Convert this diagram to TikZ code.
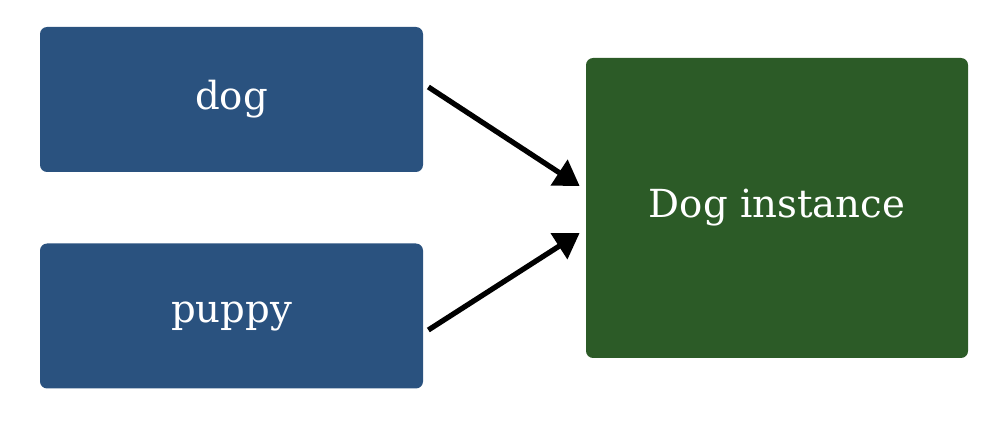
\documentclass[tikz,border=0pt]{standalone}
\usepackage{fontspec}
\setmainfont{DejaVu Serif}
\usepackage{tikz}
\usetikzlibrary{arrows.meta}
\usetikzlibrary{positioning}
\definecolor{namebox}{HTML}{2A527F}
\definecolor{objbox}{HTML}{2C5B27}

\begin{document}
\begin{tikzpicture}[->,>={Triangle[length=14pt,width=17pt]},auto,
    name node/.style={rectangle,rounded corners=4pt,fill=namebox,text=white,font=\fontsize{22}{26}\selectfont,minimum width=7.66cm,minimum height=2.9cm,inner sep=0pt},
    obj node/.style={rectangle,rounded corners=4pt,fill=objbox,text=white,font=\fontsize{22}{26}\selectfont,minimum width=7.64cm,minimum height=6cm,inner sep=0pt}]
   \useasboundingbox (0,0) rectangle (20.12,8.4);
   \begin{scope}
      \node[name node] (dog) at (4.63,6.41) {dog};
      \node[name node] (puppy) at (4.63,2.08) {puppy};
      \node[obj node] (inst) at (15.54,4.24) {Dog instance};
      %\node[obj node] (inst) [right=3.3cm of dog] {Dog instance};
       \path[->,line width=3pt] ([xshift=0.1cm,yshift=0.25cm]dog.east) edge ([xshift=-0.12cm,yshift=0.44cm]inst.west);
       \path[->,line width=3pt] ([xshift=0.1cm,yshift=-0.28cm]puppy.east) edge ([xshift=-0.12cm,yshift=-0.5cm]inst.west);
   \end{scope}
\end{tikzpicture}
\end{document}
